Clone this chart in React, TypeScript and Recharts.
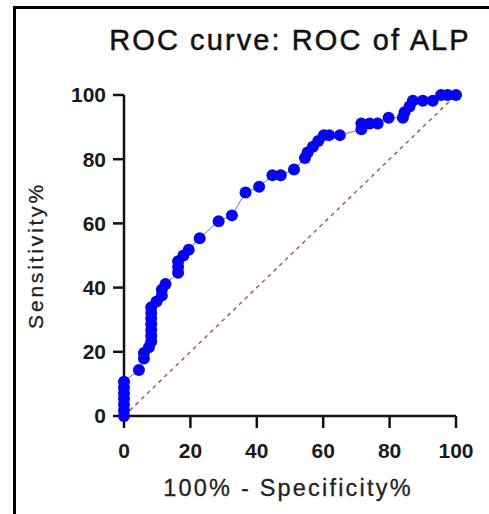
import { ComposedChart, Scatter, XAxis, YAxis, Label } from "recharts";

// 100% - Specificity% (x) and Sensitivity% (y) for each ROC point
const specComplement = [
  0, 0, 0, 0, 0, 0, 0, 4.5, 6, 6, 7.5, 8.2, 8.2, 8.2, 8.2, 8.2, 8.2, 8.2, 9.8,
  11.4, 11.4, 12.5, 16.3, 16.3, 16.3, 17.9, 19.5, 22.8, 28.5, 32.5, 36.6, 40.7,
  44.7, 47.2, 51.2, 54.5, 55.3, 56.9, 58.5, 60.2, 61.8, 65, 71.5, 71.5, 74,
  76.4, 79.7, 84, 84.5, 86, 87, 90, 93, 95.5, 97.5, 100,
];
const sensitivity = [
  0, 1.8, 3.6, 5.4, 7.1, 8.9, 10.7, 14.3, 17.9, 19.6, 21.4, 23.2, 25, 26.8,
  28.6, 30.4, 32.1, 33.9, 35.7, 37.5, 39.3, 41.1, 44.6, 46.4, 48.2, 50, 51.8,
  55.4, 60.7, 62.5, 69.6, 71.4, 75, 75, 76.8, 80.4, 82.1, 83.9, 85.7, 87.5,
  87.5, 87.5, 89.3, 91.1, 91.1, 91.1, 92.9, 92.9, 94.6, 96.4, 98.2, 98.2, 98.2,
  100, 100, 100,
];
const diagonalX = [0, 100];
const diagonalY = [0, 100];
const ticks = [0, 20, 40, 60, 80, 100];

const rocData = specComplement.map((x, i) => ({ x, y: sensitivity[i] }));
const diagData = diagonalX.map((x, i) => ({ x, y: diagonalY[i] }));

const font = "'Liberation Sans', Arial, sans-serif";

const Dot = (props: any) => {
  const { cx, cy } = props;
  if (cx == null || cy == null) return null;
  return <circle cx={cx} cy={cy} r={6} fill="#0505f2" />;
};

const tickStyle = {
  fontFamily: font,
  fontSize: 21,
  fontWeight: "bold" as const,
  fill: "#1a1a1a",
};

export default function App() {
  return (
    <div
      style={{
        position: "absolute",
        left: 0,
        top: 0,
        width: 489,
        height: 514,
        background: "#fff",
        overflow: "hidden",
      }}
    >
      <div
        style={{
          position: "absolute",
          left: 13,
          top: 6,
          width: 480,
          height: 520,
          borderLeft: "3px solid #000",
          borderTop: "3px solid #000",
          boxSizing: "border-box",
        }}
      />
      <div
        style={{
          position: "absolute",
          left: 0,
          width: 580,
          top: 24,
          textAlign: "center",
          fontFamily: font,
          fontSize: 29,
          letterSpacing: 2.1,
          color: "#111",
          WebkitTextStroke: "0.5px #111",
          whiteSpace: "nowrap",
        }}
      >
        ROC curve: ROC of ALP
      </div>
      <ComposedChart
        width={489}
        height={514}
        margin={{ top: 95, right: 33, bottom: 0, left: 0 }}
        style={{ position: "absolute", left: 0, top: 0 }}
      >
        <XAxis
          type="number"
          dataKey="x"
          domain={[0, 100]}
          ticks={ticks}
          height={98}
          tickSize={12}
          tickMargin={15}
          tick={tickStyle}
          stroke="#111"
          strokeWidth={2.5}
        >
          <Label
            content={(p: any) => {
              const vb = p.viewBox;
              return (
                <text
                  x={vb.x + vb.width / 2 - 2}
                  y={vb.y + 80}
                  textAnchor="middle"
                  fontFamily={font}
                  fontSize={23.5}
                  letterSpacing={2.2}
                  fill="#222"
                  stroke="#222"
                  strokeWidth={0.3}
                >
                  100% - Specificity%
                </text>
              );
            }}
          />
        </XAxis>
        <YAxis
          type="number"
          dataKey="y"
          domain={[0, 100]}
          ticks={ticks}
          width={124}
          tickSize={11}
          tickMargin={7}
          tick={tickStyle}
          stroke="#111"
          strokeWidth={2.5}
        >
          <Label
            content={(p: any) => {
              const vb = p.viewBox;
              const cy = vb.y + vb.height / 2;
              return (
                <text
                  x={43}
                  y={cy}
                  transform={`rotate(-90, 43, ${cy})`}
                  textAnchor="middle"
                  fontFamily={font}
                  fontSize={21}
                  letterSpacing={2.8}
                  fill="#222"
                  stroke="#222"
                  strokeWidth={0.3}
                >
                  Sensitivity%
                </text>
              );
            }}
          />
        </YAxis>
        <Scatter
          data={diagData}
          line={{ stroke: "#a0605a", strokeWidth: 1.5, strokeDasharray: "4 4" }}
          shape={() => null}
          isAnimationActive={false}
        />
        <Scatter
          data={rocData}
          line={{ stroke: "#7070b8", strokeWidth: 1 }}
          shape={<Dot />}
          isAnimationActive={false}
        />
      </ComposedChart>
    </div>
  );
}
